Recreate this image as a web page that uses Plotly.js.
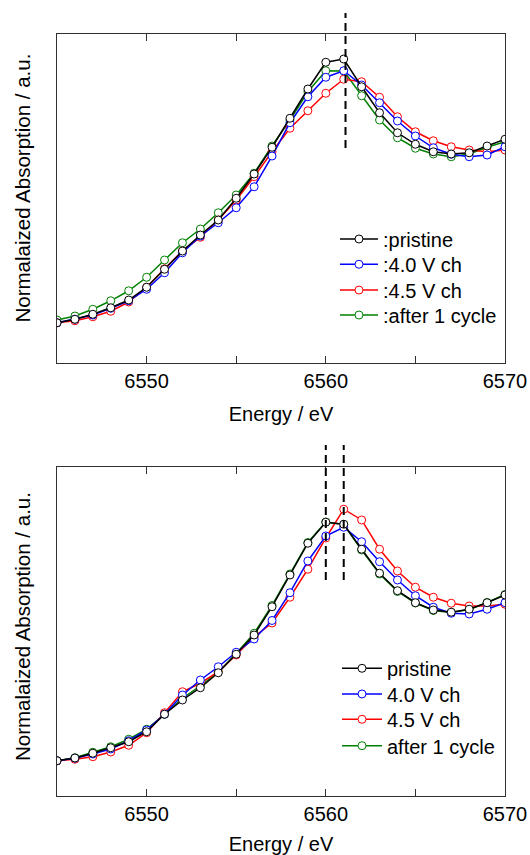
<!DOCTYPE html>
<html>
<head>
<meta charset="utf-8">
<script src="https://cdn.plot.ly/plotly-3.0.1.min.js"></script>
<style>
html,body{margin:0;padding:0;background:#fff;}
#chart{width:530px;height:855px;}
</style>
</head>
<body>
<div id="chart"></div>
<script>
// Energy axis (eV)
var energy = [6545,6546,6547,6548,6549,6550,6551,6552,6553,6554,6555,6556,6557,6558,6559,6560,6561,6562,6563,6564,6565,6566,6567,6568,6569,6570];

// Top panel
var topPristine = [0.161,0.175,0.195,0.221,0.252,0.303,0.375,0.448,0.512,0.572,0.659,0.756,0.863,0.979,1.096,1.203,1.216,1.105,1.001,0.921,0.875,0.845,0.836,0.841,0.868,0.895];
var top40V = [0.161,0.175,0.192,0.219,0.249,0.295,0.361,0.441,0.508,0.561,0.621,0.705,0.828,0.961,1.065,1.143,1.169,1.112,1.041,0.968,0.908,0.861,0.835,0.825,0.832,0.865];
var top45V = [0.161,0.169,0.185,0.207,0.244,0.303,0.377,0.448,0.503,0.572,0.652,0.745,0.845,0.939,1.009,1.079,1.135,1.125,1.063,0.985,0.925,0.889,0.865,0.852,0.845,0.852];
var topCycle = [0.172,0.188,0.215,0.249,0.289,0.343,0.412,0.481,0.536,0.601,0.672,0.759,0.868,0.972,1.085,1.169,1.168,1.069,0.972,0.901,0.859,0.836,0.825,0.836,0.863,0.885];

// Bottom panel
var botPristine = [0.141,0.152,0.171,0.193,0.217,0.257,0.327,0.384,0.433,0.493,0.567,0.644,0.757,0.884,1.011,1.095,1.087,0.987,0.891,0.821,0.773,0.744,0.735,0.747,0.773,0.804];
var bot40V = [0.141,0.151,0.168,0.188,0.221,0.264,0.327,0.404,0.464,0.517,0.575,0.628,0.702,0.813,0.940,1.040,1.075,1.017,0.937,0.864,0.801,0.755,0.731,0.728,0.747,0.773];
var bot45V = [0.141,0.147,0.157,0.176,0.203,0.253,0.333,0.417,0.451,0.497,0.564,0.637,0.692,0.795,0.907,1.032,1.147,1.104,0.987,0.900,0.835,0.795,0.771,0.760,0.760,0.767];
var botCycle = [0.141,0.153,0.175,0.197,0.227,0.267,0.327,0.391,0.440,0.496,0.570,0.651,0.762,0.888,1.014,1.096,1.086,0.984,0.888,0.818,0.772,0.742,0.734,0.746,0.774,0.806];

var topNames = [':pristine', ':4.0 V ch', ':4.5 V ch', ':after 1 cycle'];
var botNames = ['pristine', '4.0 V ch', '4.5 V ch', 'after 1 cycle'];
var colors = ['#000000', '#0000ff', '#ff0000', '#008000'];

var tickVals = [6545, 6550, 6555, 6560, 6565, 6570];
var tickText = ['', '6550', '', '6560', '', '6570'];

// dashed guide positions (eV)
var topPeakLines = [6561.1];
var botPeakLines = [6560, 6561];

var yTitle = 'Normalaized Absorption / a.u.';
var FONT = 'Liberation Sans, Arial, Helvetica, sans-serif';

// one single-entry legend per series so row spacing matches the original
var topLegendRows = [0.7310, 0.6978, 0.6640, 0.6312];
var botLegendRows = [0.1676, 0.1339, 0.1007, 0.0660];

function mk(x, y, name, color, xa, ya, legend) {
  return {
    x: x, y: y, name: name, type: 'scatter', mode: 'lines+markers',
    xaxis: xa, yaxis: ya, legend: legend,
    line: {color: color, width: 1.5},
    marker: {symbol: 'circle', size: 8, color: '#ffffff', line: {color: color, width: 1}}
  };
}

var topSeries = [topPristine, top40V, top45V, topCycle];
var botSeries = [botPristine, bot40V, bot45V, botCycle];
var data = [];
var order = [3, 2, 1, 0];
order.forEach(function (i) { data.push(mk(energy, topSeries[i], topNames[i], colors[i], 'x', 'y', i === 0 ? 'legend' : 'legend' + (i + 1))); });
order.forEach(function (i) { data.push(mk(energy, botSeries[i], botNames[i], colors[i], 'x2', 'y2', 'legend' + (i + 5))); });

var frame = '#303030';
function xaxis(anchor) {
  return {
    anchor: anchor, domain: [0, 1], range: [6545, 6570],
    tickmode: 'array', tickvals: tickVals, ticktext: tickText,
    ticks: 'inside', ticklen: 7, tickwidth: 1, tickcolor: frame,
    showline: true, linecolor: frame, linewidth: 1, mirror: 'ticks',
    showgrid: false, zeroline: false,
    tickfont: {family: FONT, size: 20, color: '#000'},
    title: {text: 'Energy / eV', font: {family: FONT, size: 20, color: '#000'}, standoff: 15}
  };
}
function yaxis(anchor, domain) {
  return {
    anchor: anchor, domain: domain, range: [0, 1.316],
    showticklabels: false, ticks: '', showgrid: false, zeroline: false,
    showline: true, linecolor: frame, linewidth: 1, mirror: true
  };
}

var shapes = [];
function dashed(xref, xv, y0, y1) {
  return {type: 'line', xref: xref, yref: 'paper', x0: xv, x1: xv, y0: y0, y1: y1,
    line: {color: '#000', width: 2, dash: '8px,5px'}};
}
topPeakLines.forEach(function (v) { shapes.push(dashed('x', v, 0.8504, 1.0276)); });
botPeakLines.forEach(function (v) { shapes.push(dashed('x2', v, 0.2835, 0.4606)); });

function legend(x, y, w) {
  return {x: x, y: y, xanchor: 'left', yanchor: 'middle', bgcolor: 'rgba(0,0,0,0)',
    borderwidth: 0, itemwidth: w,
    font: {family: FONT, size: 20, color: '#000'}};
}

var layout = {
  width: 530, height: 855,
  margin: {l: 57, r: 25, t: 34, b: 59},
  paper_bgcolor: '#fff', plot_bgcolor: '#fff',
  showlegend: true,
  xaxis: xaxis('y'),
  yaxis: yaxis('x', [0.5682, 1]),
  xaxis2: xaxis('y2'),
  yaxis2: yaxis('x2', [0, 0.4318]),
  shapes: shapes,
  annotations: [
    {text: yTitle, xref: 'paper', yref: 'paper', x: -0.0759, y: 0.7985, xanchor: 'center', yanchor: 'middle',
     textangle: -90, showarrow: false, font: {family: FONT, size: 20.5, color: '#000'}},
    {text: yTitle, xref: 'paper', yref: 'paper', x: -0.0759, y: 0.2231, xanchor: 'center', yanchor: 'middle',
     textangle: -90, showarrow: false, font: {family: FONT, size: 20.5, color: '#000'}}
  ]
};
for (var k = 0; k < 4; k++) {
  layout[k === 0 ? 'legend' : 'legend' + (k + 1)] = legend(0.6205, topLegendRows[k], 38);
  layout['legend' + (k + 5)] = legend(0.625, botLegendRows[k], 40);
}

Plotly.newPlot('chart', data, layout, {displayModeBar: false, staticPlot: true});
</script>
</body>
</html>
